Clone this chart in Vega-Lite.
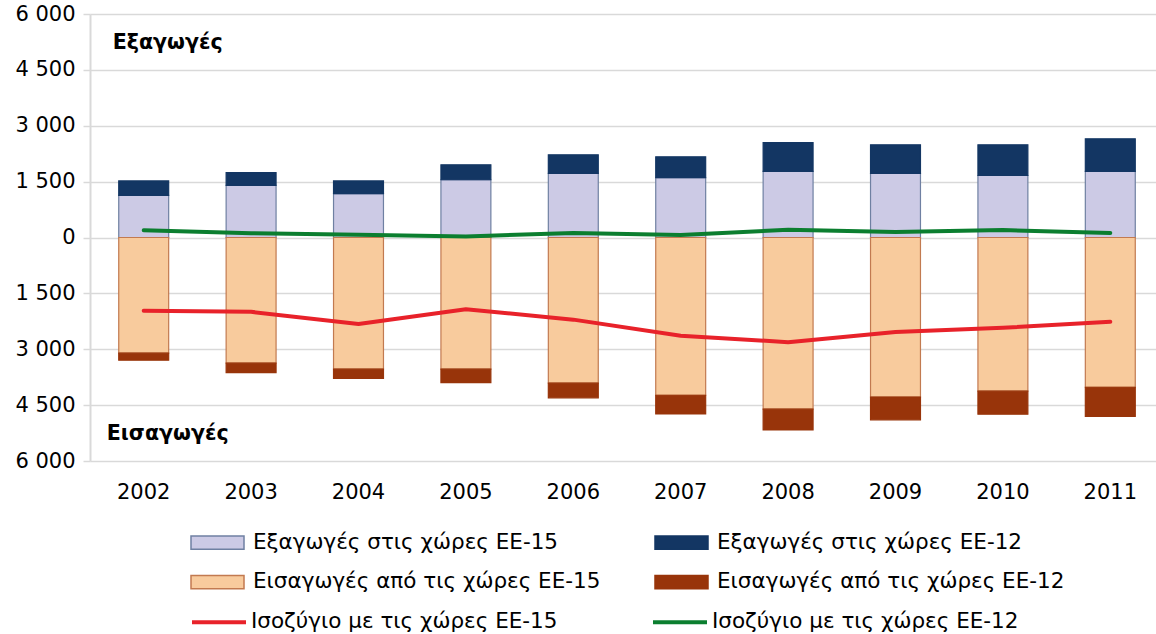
{
  "$schema": "https://vega.github.io/schema/vega-lite/v6.json",
  "width": 1074,
  "height": 447,
  "autosize": {"type": "none"},
  "padding": {"left": 90, "top": 14, "right": -8, "bottom": 173},
  "background": "white",
  "config": {"view": {"stroke": null}, "font": "DejaVu Sans"},
  "data": {
    "values": [
      {"kind": "bar", "year": "2002", "series": "Εξαγωγές στις χώρες ΕΕ-15", "value": 1130},
      {"kind": "bar", "year": "2003", "series": "Εξαγωγές στις χώρες ΕΕ-15", "value": 1400},
      {"kind": "bar", "year": "2004", "series": "Εξαγωγές στις χώρες ΕΕ-15", "value": 1180},
      {"kind": "bar", "year": "2005", "series": "Εξαγωγές στις χώρες ΕΕ-15", "value": 1550},
      {"kind": "bar", "year": "2006", "series": "Εξαγωγές στις χώρες ΕΕ-15", "value": 1720},
      {"kind": "bar", "year": "2007", "series": "Εξαγωγές στις χώρες ΕΕ-15", "value": 1610},
      {"kind": "bar", "year": "2008", "series": "Εξαγωγές στις χώρες ΕΕ-15", "value": 1775},
      {"kind": "bar", "year": "2009", "series": "Εξαγωγές στις χώρες ΕΕ-15", "value": 1720},
      {"kind": "bar", "year": "2010", "series": "Εξαγωγές στις χώρες ΕΕ-15", "value": 1665},
      {"kind": "bar", "year": "2011", "series": "Εξαγωγές στις χώρες ΕΕ-15", "value": 1775},
      {"kind": "bar", "year": "2002", "series": "Εξαγωγές στις χώρες ΕΕ-12", "value": 390},
      {"kind": "bar", "year": "2003", "series": "Εξαγωγές στις χώρες ΕΕ-12", "value": 340},
      {"kind": "bar", "year": "2004", "series": "Εξαγωγές στις χώρες ΕΕ-12", "value": 340},
      {"kind": "bar", "year": "2005", "series": "Εξαγωγές στις χώρες ΕΕ-12", "value": 400},
      {"kind": "bar", "year": "2006", "series": "Εξαγωγές στις χώρες ΕΕ-12", "value": 500},
      {"kind": "bar", "year": "2007", "series": "Εξαγωγές στις χώρες ΕΕ-12", "value": 555},
      {"kind": "bar", "year": "2008", "series": "Εξαγωγές στις χώρες ΕΕ-12", "value": 770},
      {"kind": "bar", "year": "2009", "series": "Εξαγωγές στις χώρες ΕΕ-12", "value": 770},
      {"kind": "bar", "year": "2010", "series": "Εξαγωγές στις χώρες ΕΕ-12", "value": 825},
      {"kind": "bar", "year": "2011", "series": "Εξαγωγές στις χώρες ΕΕ-12", "value": 875},
      {"kind": "bar", "year": "2002", "series": "Εισαγωγές από τις χώρες ΕΕ-15", "value": -3105},
      {"kind": "bar", "year": "2003", "series": "Εισαγωγές από τις χώρες ΕΕ-15", "value": -3375},
      {"kind": "bar", "year": "2004", "series": "Εισαγωγές από τις χώρες ΕΕ-15", "value": -3535},
      {"kind": "bar", "year": "2005", "series": "Εισαγωγές από τις χώρες ΕΕ-15", "value": -3535},
      {"kind": "bar", "year": "2006", "series": "Εισαγωγές από τις χώρες ΕΕ-15", "value": -3910},
      {"kind": "bar", "year": "2007", "series": "Εισαγωγές από τις χώρες ΕΕ-15", "value": -4235},
      {"kind": "bar", "year": "2008", "series": "Εισαγωγές από τις χώρες ΕΕ-15", "value": -4610},
      {"kind": "bar", "year": "2009", "series": "Εισαγωγές από τις χώρες ΕΕ-15", "value": -4285},
      {"kind": "bar", "year": "2010", "series": "Εισαγωγές από τις χώρες ΕΕ-15", "value": -4125},
      {"kind": "bar", "year": "2011", "series": "Εισαγωγές από τις χώρες ΕΕ-15", "value": -4020},
      {"kind": "bar", "year": "2002", "series": "Εισαγωγές από τις χώρες ΕΕ-12", "value": -190},
      {"kind": "bar", "year": "2003", "series": "Εισαγωγές από τις χώρες ΕΕ-12", "value": -250},
      {"kind": "bar", "year": "2004", "series": "Εισαγωγές από τις χώρες ΕΕ-12", "value": -250},
      {"kind": "bar", "year": "2005", "series": "Εισαγωγές από τις χώρες ΕΕ-12", "value": -360},
      {"kind": "bar", "year": "2006", "series": "Εισαγωγές από τις χώρες ΕΕ-12", "value": -395},
      {"kind": "bar", "year": "2007", "series": "Εισαγωγές από τις χώρες ΕΕ-12", "value": -500},
      {"kind": "bar", "year": "2008", "series": "Εισαγωγές από τις χώρες ΕΕ-12", "value": -555},
      {"kind": "bar", "year": "2009", "series": "Εισαγωγές από τις χώρες ΕΕ-12", "value": -610},
      {"kind": "bar", "year": "2010", "series": "Εισαγωγές από τις χώρες ΕΕ-12", "value": -620},
      {"kind": "bar", "year": "2011", "series": "Εισαγωγές από τις χώρες ΕΕ-12", "value": -780},
      {"kind": "line", "year": "2002", "series": "Ισοζύγιο με τις χώρες ΕΕ-15", "value": -1965},
      {"kind": "line", "year": "2003", "series": "Ισοζύγιο με τις χώρες ΕΕ-15", "value": -1995},
      {"kind": "line", "year": "2004", "series": "Ισοζύγιο με τις χώρες ΕΕ-15", "value": -2325},
      {"kind": "line", "year": "2005", "series": "Ισοζύγιο με τις χώρες ΕΕ-15", "value": -1925},
      {"kind": "line", "year": "2006", "series": "Ισοζύγιο με τις χώρες ΕΕ-15", "value": -2205},
      {"kind": "line", "year": "2007", "series": "Ισοζύγιο με τις χώρες ΕΕ-15", "value": -2635},
      {"kind": "line", "year": "2008", "series": "Ισοζύγιο με τις χώρες ΕΕ-15", "value": -2810},
      {"kind": "line", "year": "2009", "series": "Ισοζύγιο με τις χώρες ΕΕ-15", "value": -2535},
      {"kind": "line", "year": "2010", "series": "Ισοζύγιο με τις χώρες ΕΕ-15", "value": -2425},
      {"kind": "line", "year": "2011", "series": "Ισοζύγιο με τις χώρες ΕΕ-15", "value": -2265},
      {"kind": "line", "year": "2002", "series": "Ισοζύγιο με τις χώρες ΕΕ-12", "value": 195},
      {"kind": "line", "year": "2003", "series": "Ισοζύγιο με τις χώρες ΕΕ-12", "value": 115},
      {"kind": "line", "year": "2004", "series": "Ισοζύγιο με τις χώρες ΕΕ-12", "value": 75},
      {"kind": "line", "year": "2005", "series": "Ισοζύγιο με τις χώρες ΕΕ-12", "value": 30},
      {"kind": "line", "year": "2006", "series": "Ισοζύγιο με τις χώρες ΕΕ-12", "value": 120},
      {"kind": "line", "year": "2007", "series": "Ισοζύγιο με τις χώρες ΕΕ-12", "value": 70},
      {"kind": "line", "year": "2008", "series": "Ισοζύγιο με τις χώρες ΕΕ-12", "value": 205},
      {"kind": "line", "year": "2009", "series": "Ισοζύγιο με τις χώρες ΕΕ-12", "value": 150},
      {"kind": "line", "year": "2010", "series": "Ισοζύγιο με τις χώρες ΕΕ-12", "value": 200},
      {"kind": "line", "year": "2011", "series": "Ισοζύγιο με τις χώρες ΕΕ-12", "value": 120},
      {"kind": "label", "year": "2002", "series": "Εξαγωγές", "value": 5230},
      {"kind": "label", "year": "2002", "series": "Εισαγωγές", "value": -5270}
    ]
  },
  "encoding": {
    "x": {
      "field": "year", "type": "ordinal", "title": null,
      "scale": {"paddingInner": 0.535, "paddingOuter": 0.2675},
      "axis": {"domain": false, "ticks": false, "grid": false, "labelAngle": 0, "labelFontSize": 21, "labelPadding": 20, "labelColor": "#000000"}
    },
    "y": {
      "field": "value", "type": "quantitative", "title": null,
      "scale": {"domain": [-6000, 6000], "nice": false, "zero": false},
      "axis": {
        "values": [-6000, -4500, -3000, -1500, 0, 1500, 3000, 4500, 6000],
        "labelExpr": "replace(format(abs(datum.value), ','), ',', ' ')",
        "grid": true, "gridColor": "#D9D9D9", "gridWidth": 1.5,
        "domainColor": "#D9D9D9", "domainWidth": 2,
        "tickColor": "#D9D9D9", "tickSize": 7, "tickWidth": 1.5,
        "labelFontSize": 21, "labelColor": "#000000", "labelPadding": 8
      }
    }
  },
  "layer": [
    {
      "transform": [{"filter": "datum.kind == 'bar'"}],
      "mark": {"type": "bar", "strokeWidth": 1.2},
      "encoding": {
        "fill": {
          "field": "series", "type": "nominal",
          "scale": {
            "domain": ["Εξαγωγές στις χώρες ΕΕ-15", "Εξαγωγές στις χώρες ΕΕ-12", "Εισαγωγές από τις χώρες ΕΕ-15", "Εισαγωγές από τις χώρες ΕΕ-12"],
            "range": ["#CCCAE5", "#133663", "#F8CB9D", "#98340A"]
          },
          "legend": {"orient": "none", "direction": "horizontal", "legendX": 100, "legendY": 501, "columns": 2, "columnPadding": 51, "rowPadding": 1.5, "title": null, "symbolType": "M-1,-0.25H1V0.25H-1Z", "symbolSize": 2809, "symbolStrokeWidth": 1.5, "labelFontSize": 21.5, "labelOffset": 8, "labelColor": "#000000", "labelLimit": 500}
        },
        "stroke": {
          "field": "series", "type": "nominal",
          "scale": {
            "domain": ["Εξαγωγές στις χώρες ΕΕ-15", "Εξαγωγές στις χώρες ΕΕ-12", "Εισαγωγές από τις χώρες ΕΕ-15", "Εισαγωγές από τις χώρες ΕΕ-12"],
            "range": ["#6F80A2", "#133663", "#C27A50", "#98340A"]
          },
          "legend": {"orient": "none", "direction": "horizontal", "legendX": 100, "legendY": 501, "columns": 2, "columnPadding": 51, "rowPadding": 1.5, "title": null, "symbolType": "M-1,-0.25H1V0.25H-1Z", "symbolSize": 2809, "symbolStrokeWidth": 1.5, "labelFontSize": 21.5, "labelOffset": 8, "labelColor": "#000000", "labelLimit": 500}
        },
        "order": {"field": "series", "sort": "descending"}
      }
    },
    {
      "transform": [{"filter": "datum.kind == 'line'"}],
      "mark": {"type": "line", "strokeWidth": 4, "strokeCap": "round", "strokeJoin": "round"},
      "encoding": {
        "color": {
          "field": "series", "type": "nominal",
          "scale": {"domain": ["Ισοζύγιο με τις χώρες ΕΕ-15", "Ισοζύγιο με τις χώρες ΕΕ-12"], "range": ["#E8222A", "#0B7E2F"]},
          "legend": {"orient": "none", "direction": "horizontal", "legendX": 100, "legendY": 579, "columns": 2, "columnPadding": 87, "title": null, "symbolType": "stroke", "symbolSize": 2916, "symbolStrokeWidth": 4, "labelFontSize": 21.5, "labelOffset": 3, "labelColor": "#000000", "labelLimit": 500}
        }
      }
    },
    {
      "transform": [{"filter": "datum.kind == 'label'"}],
      "mark": {"type": "text", "fontWeight": "bold", "fontSize": 20.6, "align": "center", "baseline": "middle", "dx": 24, "color": "#000000"},
      "encoding": {
        "text": {"field": "series"}
      }
    }
  ]
}
